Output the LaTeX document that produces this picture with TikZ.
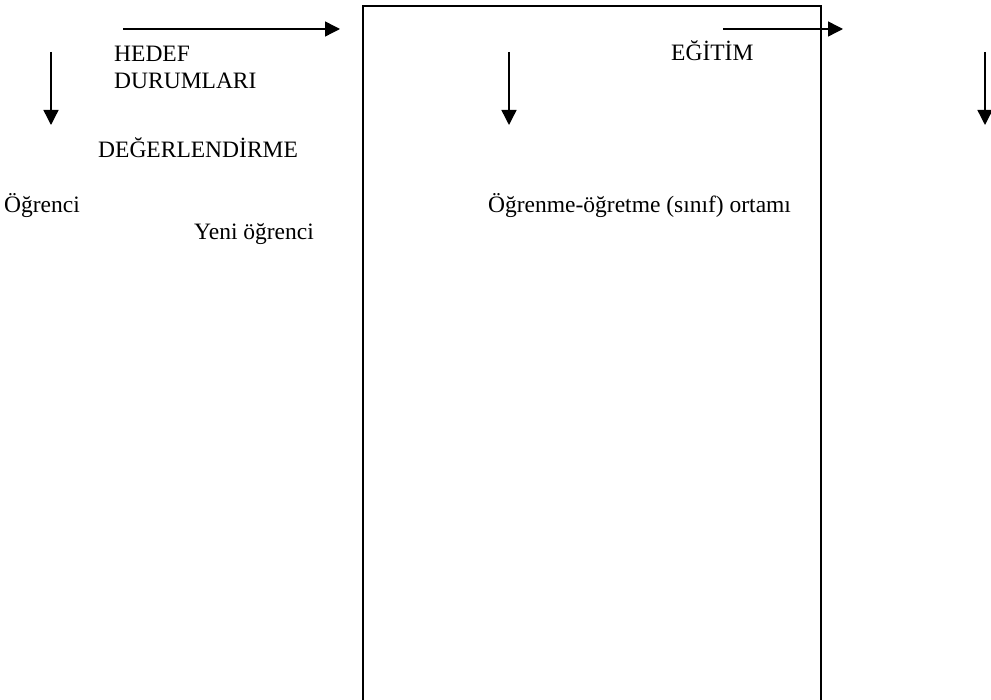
\documentclass[tikz,border=0pt]{standalone}
\usepackage{fontspec}
\setmainfont{Liberation Serif}
\usetikzlibrary{arrows.meta}
\begin{document}
\begin{tikzpicture}[x=1pt,y=-1pt,
  lbl/.style={anchor=base west,inner sep=0pt,font=\fontsize{23.5}{27}\selectfont},
  arr/.style={line width=1.4pt,-{Triangle[length=15pt,width=15pt]}},
  boxline/.style={line width=1.6pt}]
\useasboundingbox (0,0) rectangle (991,700);
% box (open at bottom)
\coordinate (bl) at (363,702);
\coordinate (tl) at (363,6);
\coordinate (tr) at (821,6);
\coordinate (br) at (821,702);
\draw[boxline] (bl) -- (tl) -- (tr) -- (br);
% arrows
\coordinate (a1s) at (123,29); \coordinate (a1e) at (340,29);
\coordinate (a2s) at (51,52);  \coordinate (a2e) at (51,125);
\coordinate (a3s) at (509,52); \coordinate (a3e) at (509,125);
\coordinate (a4s) at (723,29); \coordinate (a4e) at (843,29);
\coordinate (a5s) at (985,52); \coordinate (a5e) at (985,125);
\draw[arr] (a1s) -- (a1e);
\draw[arr] (a2s) -- (a2e);
\draw[arr] (a3s) -- (a3e);
\draw[arr] (a4s) -- (a4e);
\draw[arr] (a5s) -- (a5e);
% labels
\node[lbl] (hedef) at (114,62) {HEDEF};
\node[lbl] (durum) at (114,89) {DURUMLARI};
\node[lbl] (deger) at (98,158) {DEĞERLENDİRME};
\node[lbl] (ogr) at (4,213) {Öğrenci};
\node[lbl] (yeni) at (194,240) {Yeni öğrenci};
\node[lbl] (egitim) at (671,61) {EĞİTİM};
\node[lbl] (ortam) at (488,213) {Öğrenme-öğretme (sınıf) ortamı};
\end{tikzpicture}
\end{document}
